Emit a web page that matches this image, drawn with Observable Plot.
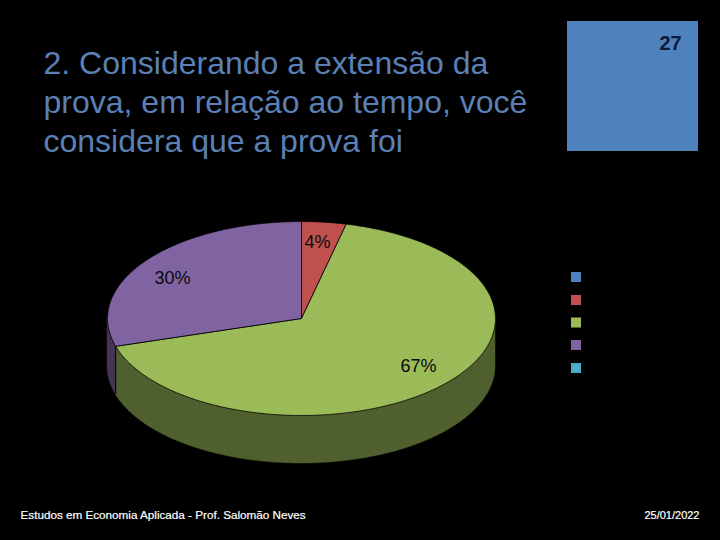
<!DOCTYPE html>
<html>
<head>
<meta charset="utf-8">
<script src="https://cdn.jsdelivr.net/npm/d3@7"></script>
<script src="https://cdn.jsdelivr.net/npm/@observablehq/plot@0.6"></script>
<style>
html,body{margin:0;padding:0;background:#000;overflow:hidden}
svg{display:block}
</style>
</head>
<body>
<div id="chart"></div>
<script>
const categories = ["Opção 1", "Opção 2", "Opção 3", "Opção 4", "Opção 5"];
const counts = [0, 1, 18, 8, 0];
const colors = ["#4f81bd", "#c0504d", "#9bbb59", "#8064a2", "#4bacc6"];
const wallColors = ["#283f5e", "#602826", "#4f5f2d", "#433553", "#255663"];
const titleLines = ["2. Considerando a extensão da", "prova, em relação ao tempo, você", "considera que a prova foi"];
const boxValue = "27";
const footerLeft = "Estudos em Economia Aplicada - Prof. Salomão Neves";
const footerRight = "25/01/2022";

// layout (pixels)
const C = {cx: 301, cy: 318, rx: 194, ry: 97, depth: 48};
const labelPos = {"Opção 2": [317, 242], "Opção 3": [418, 366], "Opção 4": [172, 278]};

const total = d3.sum(counts);
const tau = 2 * Math.PI;
let acc = 0;
const slices = categories.map((c, i) => {
  const a0 = acc / total * tau; acc += counts[i];
  return {category: c, count: counts[i], a0, a1: acc / total * tau};
}).filter(s => s.count > 0);

const px = a => C.cx + C.rx * Math.sin(a);
const py = a => C.cy - C.ry * Math.cos(a);

const arcAngles = (a0, a1) => {
  const n = Math.max(2, Math.ceil((a1 - a0) / 0.01));
  return d3.range(n + 1).map(k => a0 + (a1 - a0) * k / n);
};

const wedgePts = slices.flatMap(s => [
  {category: s.category, x: C.cx, y: C.cy},
  ...arcAngles(s.a0, s.a1).map(a => ({category: s.category, x: px(a), y: py(a)})),
  {category: s.category, x: C.cx, y: C.cy}
]);

// visible side wall: front half of the ellipse (angles 90°..270°)
const wallPts = slices.flatMap(s => {
  const a0 = Math.max(s.a0, tau / 4), a1 = Math.min(s.a1, 3 * tau / 4);
  if (a1 <= a0) return [];
  return arcAngles(a0, a1).map(a => ({category: s.category, x: px(a), y1: py(a), y2: py(a) + C.depth}));
});

const labels = slices.map(s => ({
  category: s.category,
  text: Math.round(s.count / total * 100) + "%",
  x: labelPos[s.category][0],
  y: labelPos[s.category][1]
}));

const legendY = [277, 300, 322.5, 345, 368];
const legend = categories.map((c, i) => ({category: c, y: legendY[i]}));

const seam = slices.map(s => s.a1).filter(a => a > tau / 4 && a < 3 * tau / 4)
  .map(a => ({x: px(a), y1: py(a), y2: py(a) + C.depth}));

const titleColor = "#5a80b6";
const font = "'Liberation Sans', Arial, sans-serif";

const chart = Plot.plot({
  width: 720, height: 540,
  margin: 0,
  style: {background: "#000", fontFamily: font},
  x: {domain: [0, 720], range: [0, 720], axis: null},
  y: {domain: [0, 540], range: [0, 540], axis: null},
  color: {type: "ordinal", domain: categories, range: colors},
  marks: [
    // title
    Plot.text(titleLines, {
      x: 43, y: (d, i) => 63.5 + i * 39, text: d => d,
      textAnchor: "start", fontSize: 32, fill: titleColor
    }),
    // total box
    Plot.rect([boxValue], {x1: 567, x2: 698, y1: 21, y2: 151, fill: () => categories[0]}),
    Plot.text([boxValue], {x: 670, y: 43, text: d => d, fontSize: 20, fontWeight: "bold", fill: "#0d1a3a"}),
    // side wall
    Plot.areaY(wallPts, {x: "x", y1: "y1", y2: "y2", z: "category",
      fill: d => wallColors[categories.indexOf(d.category)], stroke: d => wallColors[categories.indexOf(d.category)], strokeWidth: 0.5}),
    Plot.ruleX(seam, {x: "x", y1: "y1", y2: "y2", stroke: "#000", strokeWidth: 1}),
    // top wedges
    Plot.line(wedgePts, {x: "x", y: "y", z: "category", fill: "category", stroke: "#000", strokeWidth: 0.8, curve: "linear"}),
    // percent labels
    Plot.text(labels, {x: "x", y: "y", text: "text", fontSize: 18, fill: "#0a0a0a"}),
    // legend swatches
    Plot.rect(legend, {x1: 571, x2: 581, y1: d => d.y - 5, y2: d => d.y + 5, fill: "category"}),
    // footer
    Plot.text([footerLeft], {x: 20, y: 515, text: d => d, textAnchor: "start", fontSize: 11.7, fill: "#fff", stroke: "#fff", strokeWidth: 0.2}),
    Plot.text([footerRight], {x: 699, y: 515, text: d => d, textAnchor: "end", fontSize: 11, fill: "#fff", stroke: "#fff", strokeWidth: 0.2})
  ]
});
document.getElementById("chart").appendChild(chart);
</script>
</body>
</html>
